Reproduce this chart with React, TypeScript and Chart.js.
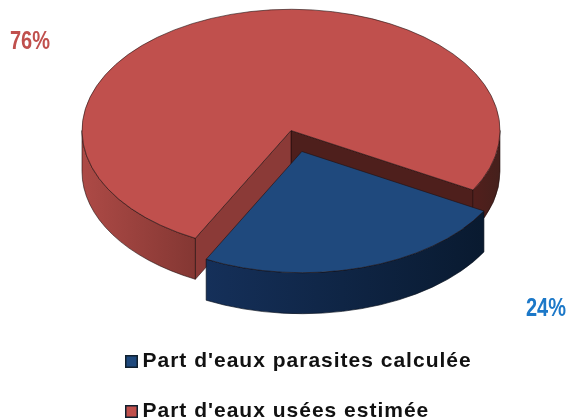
import React, { useEffect, useRef } from "react";
import { Chart, registerables } from "chart.js";

Chart.register(...registerables);

const categories = ["Part d'eaux parasites calculée", "Part d'eaux usées estimée"];
const shares = [24.4, 75.6];
const topColors = ["#1F497D", "#C0504D"];
const labelColors = ["#1C78C8", "#C0504D"];

const FLATTEN = 0.58;
const DEPTH = 41;
const RADIUS = 209;
const OFFSET = 151;
const ROTATION = 119.4;
const LEGEND_DROP = 61;

function wallPath(ctx: CanvasRenderingContext2D, x: number, y: number, r: number, a0: number, a1: number) {
  ctx.beginPath();
  ctx.ellipse(x, y, r, r * FLATTEN, 0, a0, a1, false);
  ctx.lineTo(x + r * Math.cos(a1), y + r * FLATTEN * Math.sin(a1) + DEPTH);
  ctx.ellipse(x, y + DEPTH, r, r * FLATTEN, 0, a1, a0, true);
  ctx.closePath();
}

function hGrad(ctx: CanvasRenderingContext2D, x0: number, x1: number, c0: string, c1: string) {
  const g = ctx.createLinearGradient(x0, 0, x1, 0);
  g.addColorStop(0, c0);
  g.addColorStop(1, c1);
  return g;
}

function quad(ctx: CanvasRenderingContext2D, ax: number, ay: number, bx: number, by: number, fill: string) {
  ctx.beginPath();
  ctx.moveTo(ax, ay);
  ctx.lineTo(bx, by);
  ctx.lineTo(bx, by + DEPTH);
  ctx.lineTo(ax, ay + DEPTH);
  ctx.closePath();
  ctx.fillStyle = fill;
  ctx.fill();
  ctx.strokeStyle = "rgba(30,10,10,0.75)";
  ctx.lineWidth = 0.8;
  ctx.stroke();
}

function spaced(chart: any) {
  chart.ctx.letterSpacing = "1px";
}

const pie3d = {
  id: "pie3d",
  beforeLayout: spaced,
  beforeDraw: spaced,
  afterLayout(chart: any) {
    chart.legend.top += LEGEND_DROP;
    chart.legend.bottom += LEGEND_DROP;
  },
  beforeDatasetsDraw(chart: any) {
    const ctx: CanvasRenderingContext2D = chart.ctx;
    const arcs = chart.getDatasetMeta(0).data;
    const blue = arcs[0];
    const red = arcs[1];
    const r = red.outerRadius;
    const cx = red.x;
    const cy = red.y;
    const redStart = red.startAngle;
    const redEnd = red.endAngle;
    const px = (a: number) => cx + r * Math.cos(a);
    const py = (a: number) => cy + r * FLATTEN * Math.sin(a);

    // Cut faces of the large slice
    quad(ctx, cx, cy, px(redEnd), py(redEnd), "#4E1F1C");
    // Right rim of the large slice
    wallPath(ctx, cx, cy, r, 0, redEnd - 2 * Math.PI);
    ctx.fillStyle = hGrad(ctx, px(redEnd), cx + r, "#521F1C", "#45201C");
    ctx.fill();
    ctx.strokeStyle = "rgba(30,10,10,0.7)";
    ctx.lineWidth = 0.8;
    ctx.stroke();
    quad(ctx, cx, cy, px(redStart), py(redStart), "#8B3A37");
    // Left rim of the large slice
    wallPath(ctx, cx, cy, r, redStart, Math.PI);
    ctx.fillStyle = hGrad(ctx, cx - r, px(redStart), "#AD4A46", "#843733");
    ctx.fill();
    ctx.stroke();

    // Rim of the exploded slice
    const mid = (blue.startAngle + blue.endAngle) / 2;
    const off = blue.options.offset / 4;
    const bx = blue.x + Math.cos(mid) * off;
    const by = blue.y + Math.sin(mid) * off * FLATTEN;
    wallPath(ctx, bx, by, blue.outerRadius, blue.startAngle, blue.endAngle);
    ctx.fillStyle = hGrad(ctx, bx - 100, bx + 180, "#15305A", "#091A30");
    ctx.fill();
    ctx.strokeStyle = "rgba(5,12,25,0.8)";
    ctx.stroke();

    // Flatten the top faces drawn by the library
    ctx.save();
    ctx.translate(0, cy);
    ctx.scale(1, FLATTEN);
    ctx.translate(0, -cy);
  },
  afterDatasetsDraw(chart: any) {
    const ctx: CanvasRenderingContext2D = chart.ctx;
    ctx.restore();
    const total = shares.reduce((a, b) => a + b, 0);
    const { x, y } = chart.getDatasetMeta(0).data[0];
    const put = (i: number, lx: number, ly: number) => {
      ctx.save();
      ctx.letterSpacing = "0px";
      ctx.font = 'bold 25px "Liberation Sans", Arial, sans-serif';
      ctx.textBaseline = "alphabetic";
      ctx.textAlign = "left";
      ctx.fillStyle = labelColors[i];
      ctx.translate(lx, ly);
      ctx.scale(0.8, 1);
      ctx.fillText(Math.round((shares[i] / total) * 100) + "%", 0, 0);
      ctx.restore();
    };
    put(1, x - 281, y - 82);
    put(0, x + 235, y + 185);
  },
};

function swatch(fill: string) {
  const c = document.createElement("canvas");
  c.width = 13;
  c.height = 13;
  const g = c.getContext("2d")!;
  g.fillStyle = "#10202f";
  g.fillRect(0, 0, 13, 13);
  g.fillStyle = fill;
  g.fillRect(1.5, 1.5, 10, 10);
  return c;
}

export default function App() {
  const ref = useRef<HTMLCanvasElement>(null);
  useEffect(() => {
    const chart = new Chart(ref.current!, {
      type: "pie",
      plugins: [pie3d],
      data: {
        labels: categories,
        datasets: [
          {
            data: shares,
            backgroundColor: topColors,
            borderColor: "rgba(30,15,15,0.75)",
            borderWidth: 1,
            offset: [OFFSET, 0],
            clip: false,
          } as any,
        ],
      },
      options: {
        responsive: false,
        animation: false,
        radius: RADIUS,
        rotation: ROTATION,
        layout: { padding: { left: 102, right: 87, top: 0, bottom: 48 } },
        plugins: {
          tooltip: { enabled: false },
          legend: {
            position: "bottom",
            align: "start",
            labels: {
              usePointStyle: true,
              pointStyleWidth: 1,
              padding: 29,
              color: "#111",
              font: { family: '"Liberation Sans", Arial, sans-serif', size: 21, weight: "bold" },
              generateLabels(c: any) {
                const base = (Chart as any).overrides.doughnut.plugins.legend.labels.generateLabels(c);
                return base.map((it: any, i: number) => ({ ...it, pointStyle: swatch(topColors[i]) }));
              },
            },
          },
        },
      } as any,
    });
    return () => chart.destroy();
  }, []);
  return (
    <canvas
      ref={ref}
      width={567}
      height={419}
      style={{ position: "absolute", left: 0, top: 0, display: "block", filter: "blur(0.5px)" }}
    />
  );
}
